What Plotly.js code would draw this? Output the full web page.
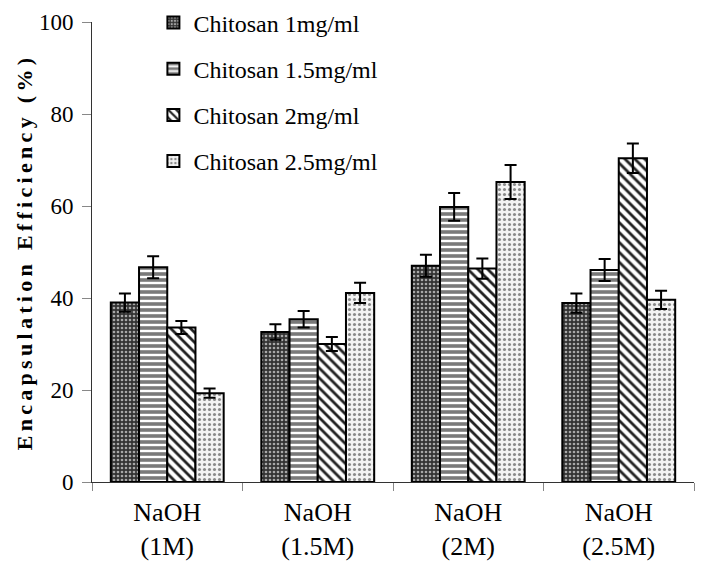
<!DOCTYPE html>
<html>
<head>
<meta charset="utf-8">
<script src="https://cdn.plot.ly/plotly-3.0.1.min.js"></script>
<style>
html,body{margin:0;padding:0;background:#fff}
#chart{width:704px;height:564px}
#chart .ytitle{letter-spacing:4.3px}
</style>
</head>
<body>
<div id="chart"></div>
<script>
var categories = ["NaOH<br>(1M)", "NaOH<br>(1.5M)", "NaOH<br>(2M)", "NaOH<br>(2.5M)"];
var seriesNames = ["Chitosan 1mg/ml", "Chitosan 1.5mg/ml", "Chitosan 2mg/ml", "Chitosan 2.5mg/ml"];
var chit1 = [39.0, 32.6, 47.0, 38.9];
var chit1Err = [2.0, 1.7, 2.4, 2.1];
var chit15 = [46.7, 35.4, 59.8, 46.1];
var chit15Err = [2.4, 1.8, 3.0, 2.4];
var chit2 = [33.6, 30.0, 46.4, 70.4];
var chit2Err = [1.4, 1.5, 2.2, 3.2];
var chit25 = [19.3, 41.1, 65.2, 39.6];
var chit25Err = [1.0, 2.2, 3.7, 2.0];

var patterns = [
  {shape: ".", bgcolor: "#333333", fgcolor: "#a8a8a8", size: 4, solidity: 0.35},
  {shape: "-", bgcolor: "#7a7a7a", fgcolor: "#ffffff", size: 6, solidity: 0.4},
  {shape: "\\", bgcolor: "#ffffff", fgcolor: "#222222", size: 7, solidity: 0.4},
  {shape: ".", bgcolor: "#f4f4f4", fgcolor: "#8a8a8a", size: 5, solidity: 0.3}
];
var vals = [chit1, chit15, chit2, chit25];
var errs = [chit1Err, chit15Err, chit2Err, chit25Err];

var traces = vals.map(function (v, i) {
  return {
    type: "bar",
    name: seriesNames[i],
    x: categories,
    y: v,
    legendgroup: "g" + i,
    marker: {
      color: patterns[i].bgcolor,
      pattern: patterns[i],
      line: {color: "#000", width: 2}
    },
    error_y: {type: "data", array: errs[i], visible: true, color: "#000", thickness: 2, width: 6}
  };
});

var layout = {
  width: 704, height: 564,
  margin: {l: 92, r: 10, t: 22, b: 82, autoexpand: false},
  paper_bgcolor: "#fff", plot_bgcolor: "#fff",
  font: {family: "Liberation Serif, Times New Roman, serif", color: "#000", size: 22},
  barmode: "group",
  bargap: 0.25,
  bargroupgap: 0,
  showlegend: true,
  legend: {
    x: 0.102, y: 1.047, xanchor: "left", yanchor: "top",
    bgcolor: "rgba(0,0,0,0)",
    font: {size: 24, family: "Liberation Serif, Times New Roman, serif"},
    traceorder: "grouped",
    tracegroupgap: 12
  },
  xaxis: {
    type: "category",
    showline: true, linecolor: "#333", linewidth: 1,
    ticks: "outside", tickson: "boundaries", ticklen: 8, tickcolor: "#888",
    ticklabelstandoff: 7,
    tickfont: {size: 26},
    showgrid: false, zeroline: false
  },
  yaxis: {
    range: [0, 100],
    tickvals: [0, 20, 40, 60, 80, 100],
    showline: true, linecolor: "#333", linewidth: 1,
    ticks: "outside", ticklen: 9, tickcolor: "#888",
    ticklabelstandoff: 4,
    tickfont: {size: 23},
    showgrid: false, zeroline: false,
    title: {text: "<b>Encapsulation Efficiency (%)</b>", font: {size: 22}, standoff: 0}
  }
};

Plotly.newPlot("chart", traces, layout, {displayModeBar: false, staticPlot: true});
</script>
</body>
</html>
